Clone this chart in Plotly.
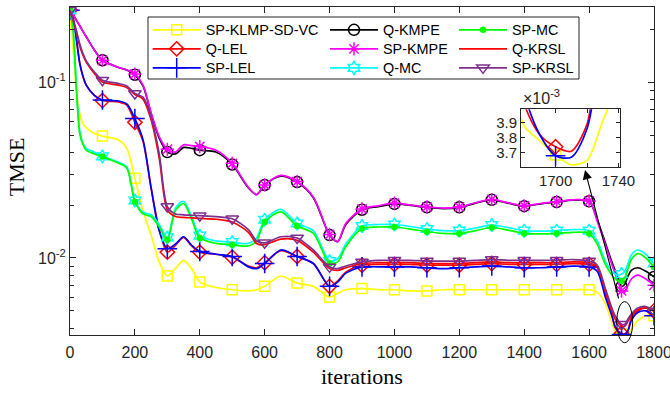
import plotly.graph_objects as go

# ---------------- data ----------------
iters = [0, 10, 20, 30, 40, 50, 75, 100,
         150, 175, 200, 225, 250, 275, 300, 325, 350, 375, 400,
         450, 500, 550, 575, 600, 650, 700, 750, 800, 825, 850,
         900, 950, 1000, 1050, 1100, 1150, 1200, 1250, 1300, 1350,
         1400, 1450, 1500, 1550, 1600, 1625, 1650, 1670, 1680, 1690,
         1700, 1710, 1720, 1730, 1750, 1775, 1800]

sp_klmp_sd_vc = [0.235, 0.155, 0.088, 0.066, 0.058, 0.055, 0.051, 0.0493,
                 0.0468, 0.042, 0.0284, 0.0185, 0.0135, 0.0095, 0.0079, 0.0087, 0.0097, 0.0087, 0.0073,
                 0.0068, 0.0066, 0.0065, 0.0066, 0.0069, 0.0079, 0.0072, 0.0069, 0.0060, 0.0063, 0.0066,
                 0.0067, 0.0066, 0.0066, 0.0065, 0.0065, 0.0066, 0.0066, 0.0066, 0.0066, 0.0066,
                 0.0066, 0.0066, 0.0066, 0.0066, 0.0066, 0.0064, 0.0055, 0.0043, 0.00388, 0.00378,
                 0.003685, 0.00362, 0.00365, 0.00391, 0.0044, 0.0047, 0.0047]

q_lel = [0.256, 0.225, 0.172, 0.128, 0.107, 0.096, 0.084, 0.0785,
         0.077, 0.074, 0.059, 0.046, 0.025, 0.0145, 0.0108, 0.0118, 0.0131, 0.0117, 0.0108,
         0.0105, 0.0101, 0.0090, 0.0088, 0.0094, 0.0110, 0.0102, 0.0093, 0.0069, 0.0074, 0.0083,
         0.0091, 0.0092, 0.0092, 0.0092, 0.0091, 0.0091, 0.0091, 0.0092, 0.0093, 0.0092,
         0.0092, 0.0092, 0.0092, 0.0093, 0.0092, 0.0088, 0.0063, 0.0048, 0.00403, 0.00382,
         0.00374, 0.00371, 0.00389, 0.00455, 0.0050, 0.0052, 0.0050]

sp_lel = [0.256, 0.228, 0.175, 0.128, 0.108, 0.096, 0.084, 0.079,
          0.078, 0.075, 0.062, 0.047, 0.025, 0.0143, 0.0113, 0.0120, 0.0132, 0.0118, 0.0109,
          0.0105, 0.0102, 0.0089, 0.0087, 0.0093, 0.0111, 0.0102, 0.0093, 0.0069, 0.0073, 0.0082,
          0.0089, 0.0089, 0.0089, 0.0089, 0.0088, 0.0087, 0.0088, 0.0089, 0.0090, 0.0089,
          0.0088, 0.0088, 0.0089, 0.0090, 0.0089, 0.0084, 0.0060, 0.0047, 0.00410, 0.00382,
          0.00368, 0.00367, 0.00386, 0.00440, 0.0049, 0.0050, 0.0047]

q_kmpe = [0.256, 0.240, 0.224, 0.209, 0.194, 0.181, 0.152, 0.133,
          0.121, 0.117, 0.110, 0.095, 0.066, 0.048, 0.040, 0.039, 0.0425, 0.042, 0.041,
          0.040, 0.034, 0.025, 0.0229, 0.026, 0.0292, 0.0270, 0.022, 0.0135, 0.0124, 0.0155,
          0.0188, 0.0196, 0.0203, 0.0199, 0.0194, 0.0191, 0.0194, 0.0205, 0.0214, 0.0205,
          0.0197, 0.0203, 0.0208, 0.0213, 0.0210, 0.0165, 0.0122, 0.0095, 0.0085, 0.0076,
          0.0069, 0.0071, 0.0079, 0.0085, 0.0088, 0.0084, 0.0078]

sp_kmpe = [0.256, 0.240, 0.224, 0.209, 0.194, 0.181, 0.152, 0.133,
           0.121, 0.117, 0.111, 0.096, 0.067, 0.049, 0.0415, 0.040, 0.044, 0.0435, 0.043,
           0.041, 0.0345, 0.0252, 0.0229, 0.026, 0.0295, 0.0272, 0.0222, 0.0136, 0.0124, 0.0157,
           0.0190, 0.0198, 0.0205, 0.0200, 0.0195, 0.0192, 0.0195, 0.0206, 0.0215, 0.0206,
           0.0198, 0.0204, 0.0209, 0.0214, 0.0211, 0.0162, 0.0119, 0.0092, 0.0082, 0.0073,
           0.0065, 0.0064, 0.0070, 0.0076, 0.0080, 0.0076, 0.0070]

q_mc = [0.256, 0.20, 0.092, 0.053, 0.045, 0.042, 0.040, 0.0378,
        0.0350, 0.0330, 0.0212, 0.0182, 0.0176, 0.0155, 0.0131, 0.0192, 0.0210, 0.0172, 0.0134,
        0.0125, 0.0123, 0.0121, 0.0130, 0.0165, 0.0189, 0.0157, 0.0143, 0.0096, 0.0099, 0.0120,
        0.0152, 0.0155, 0.0155, 0.0151, 0.0146, 0.0143, 0.0143, 0.0148, 0.0154, 0.0149,
        0.0143, 0.0142, 0.0143, 0.0145, 0.0143, 0.0125, 0.0096, 0.0084, 0.0081, 0.0080,
        0.0081, 0.0084, 0.0093, 0.0104, 0.0111, 0.0105, 0.0093]

sp_mc = [0.256, 0.19, 0.088, 0.051, 0.044, 0.041, 0.039, 0.0377,
         0.0345, 0.0325, 0.0209, 0.0178, 0.0172, 0.0150, 0.0127, 0.0186, 0.0204, 0.0166, 0.0130,
         0.0121, 0.0119, 0.0117, 0.0125, 0.0160, 0.0183, 0.0152, 0.0138, 0.0093, 0.0095, 0.0116,
         0.0147, 0.0150, 0.0150, 0.0146, 0.0141, 0.0138, 0.0138, 0.0143, 0.0149, 0.0144,
         0.0138, 0.0137, 0.0138, 0.0140, 0.0138, 0.0120, 0.0092, 0.0080, 0.0076, 0.0074,
         0.0074, 0.0077, 0.0087, 0.0098, 0.0106, 0.0100, 0.0089]

q_krsl = [0.256, 0.222, 0.19, 0.160, 0.142, 0.130, 0.112, 0.100,
          0.096, 0.093, 0.085, 0.080, 0.061, 0.037, 0.0188, 0.0172, 0.0170, 0.0169, 0.0168,
          0.0166, 0.0160, 0.0140, 0.0121, 0.0119, 0.0128, 0.0126, 0.0108, 0.0087, 0.0085, 0.0088,
          0.0093, 0.0094, 0.0094, 0.0094, 0.0093, 0.0093, 0.0093, 0.0094, 0.0095, 0.0094,
          0.0094, 0.0094, 0.0094, 0.0095, 0.0094, 0.0089, 0.0065, 0.0050, 0.0045, 0.0043,
          0.0041, 0.0041, 0.0044, 0.0047, 0.0051, 0.0052, 0.0050]

sp_krsl = [0.256, 0.226, 0.195, 0.165, 0.145, 0.132, 0.114, 0.1025,
           0.098, 0.095, 0.086, 0.082, 0.063, 0.039, 0.0196, 0.0178, 0.0176, 0.0175, 0.0174,
           0.0172, 0.0167, 0.0145, 0.0125, 0.0122, 0.0132, 0.0130, 0.0111, 0.0089, 0.0087, 0.0090,
           0.0095, 0.0097, 0.0097, 0.0097, 0.0096, 0.0096, 0.0096, 0.0097, 0.0098, 0.0097,
           0.0097, 0.0097, 0.0097, 0.0098, 0.0096, 0.0091, 0.0067, 0.0052, 0.0047, 0.0044,
           0.0042, 0.0042, 0.0045, 0.0048, 0.0052, 0.0053, 0.0050]

series_names = ["SP-KLMP-SD-VC", "Q-LEL", "SP-LEL", "Q-KMPE", "SP-KMPE",
                "Q-MC", "SP-MC", "Q-KRSL", "SP-KRSL"]
series_values = [sp_klmp_sd_vc, q_lel, sp_lel, q_kmpe, sp_kmpe, q_mc, sp_mc, q_krsl, sp_krsl]

x_ticks = [0, 200, 400, 600, 800, 1000, 1200, 1400, 1600, 1800]
y_ticks = [0.01, 0.1]
y_tick_text = ["10<sup>-2</sup>", "10<sup>-1</sup>"]
y_minor = [0.004, 0.005, 0.006, 0.007, 0.008, 0.009,
           0.02, 0.03, 0.04, 0.05, 0.06, 0.07, 0.08, 0.09, 0.2]
inset_x_ticks = [1700, 1720, 1740]
inset_x_text = ["1700", "", "1740"]
inset_y_ticks = [0.0037, 0.0038, 0.0039]
inset_y_text = ["3.7", "3.8", "3.9"]
marker_step = 100

# ---------------- styles ----------------
styles = {
    "SP-KLMP-SD-VC": dict(color="#FFFF00", symbol="square-open", size=10),
    "Q-LEL": dict(color="#FF0000", symbol="diamond-open", size=11),
    "SP-LEL": dict(color="#0000FF", symbol="cross-thin-open", size=14),
    "Q-KMPE": dict(color="#000000", symbol="circle-open", size=11),
    "SP-KMPE": dict(color="#FF00FF", symbol="asterisk-open", size=11),
    "Q-MC": dict(color="#00FFFF", symbol="hexagram-open", size=10),
    "SP-MC": dict(color="#00FF00", symbol="circle", size=5),
    "Q-KRSL": dict(color="#FF0000", symbol=None, size=0),
    "SP-KRSL": dict(color="#7E2F8E", symbol="triangle-down-open", size=11),
}

# plot area in pixels
W, H = 670, 394
ML, MR, MT, MB = 70, 16, 7, 59
PW, PH = W - ML - MR, H - MT - MB


def px_x(px):
    return (px - ML) / PW


def px_y(py):
    return (H - MB - py) / PH


fig = go.Figure()
axis_col = "#262626"
font_sans = "Liberation Sans, Arial, Helvetica, sans-serif"
font_serif = "Liberation Serif, Times New Roman, serif"

legend_cols = [152.7, 330.0, 459.0]
legend_rows = [30.0, 49.0, 68.0]

for i, (name, vals) in enumerate(zip(series_names, series_values)):
    st = styles[name]
    lg = "legend" if i == 0 else f"legend{i + 1}"
    show_mk = [(x % marker_step == 0) for x in iters]
    if st["symbol"] is None:
        mode = "lines"
        marker = None
    else:
        mode = "lines+markers"
        cols = [st["color"] if s else "rgba(0,0,0,0)" for s in show_mk]
        marker = dict(symbol=st["symbol"], size=st["size"], color=cols,
                      line=dict(color=cols, width=1.5))
    kw = dict(x=iters, y=vals, mode=mode, name=name,
              line=dict(color=st["color"], width=1.7, shape="spline", smoothing=0.8))
    if marker:
        kw["marker"] = marker
    fig.add_trace(go.Scatter(**kw, legend=lg, showlegend=True))

# inset traces
for name, vals in zip(series_names, series_values):
    if name not in ("SP-KLMP-SD-VC", "Q-LEL", "SP-LEL"):
        continue
    st = styles[name]
    show_mk = [(x % marker_step == 0) for x in iters]
    cols = [st["color"] if s else "rgba(0,0,0,0)" for s in show_mk]
    fig.add_trace(go.Scatter(
        x=iters, y=vals, mode="lines+markers", showlegend=False,
        xaxis="x2", yaxis="y2",
        line=dict(color=st["color"], width=1.7, shape="spline", smoothing=0.8),
        marker=dict(symbol=st["symbol"], size=st["size"], color=cols,
                    line=dict(color=cols, width=1.5))))

# legends
legend_layout = {}
for i in range(len(series_names)):
    col, row = i // 3, i % 3
    key = "legend" if i == 0 else f"legend{i + 1}"
    legend_layout[key] = dict(
        x=px_x(legend_cols[col] - 5), y=px_y(legend_rows[row]),
        xanchor="left", yanchor="middle",
        bgcolor="rgba(0,0,0,0)", borderwidth=0,
        font=dict(family=font_sans, size=14.4, color="#000000"),
        itemwidth=48, itemsizing="trace", tracegroupgap=0)

tick_font = dict(family=font_sans, size=16, color=axis_col)
inset_font = dict(family=font_sans, size=15, color=axis_col)

fig.update_layout(
    width=W, height=H,
    margin=dict(l=ML, r=MR, t=MT, b=MB, pad=0, autoexpand=False),
    paper_bgcolor="white", plot_bgcolor="white",
    xaxis=dict(range=[0, 1800], tickvals=x_ticks, ticks="inside", ticklen=6,
               tickcolor=axis_col, showline=True, linecolor=axis_col, linewidth=1,
               mirror="allticks", showgrid=False, zeroline=False, tickfont=tick_font,
               automargin=False, ticklabelstandoff=3, ticklabeloverflow="allow"),
    yaxis=dict(type="log", range=[-2.4377, -0.5735], tickvals=y_ticks, ticktext=y_tick_text,
               ticks="inside", ticklen=6, tickcolor=axis_col, showline=True, linecolor=axis_col,
               linewidth=1, mirror="allticks", showgrid=False, zeroline=False, tickfont=tick_font,
               automargin=False, ticklabeloverflow="allow",
               minor=dict(tickvals=y_minor, ticks="inside", ticklen=4, tickcolor=axis_col,
                          showgrid=False)),
    xaxis2=dict(domain=[px_x(521), px_x(620)], anchor="y2", range=[1678, 1741],
                tickvals=inset_x_ticks, ticktext=inset_x_text, ticks="inside", ticklen=4,
                tickcolor=axis_col, showline=True, linecolor=axis_col, linewidth=1,
                mirror="allticks", showgrid=False, zeroline=False, tickfont=inset_font,
                automargin=False, ticklabeloverflow="allow"),
    yaxis2=dict(domain=[px_y(167), px_y(109.3)], anchor="x2", range=[0.003605, 0.00399],
                tickvals=inset_y_ticks, ticktext=inset_y_text, ticks="inside", ticklen=4,
                tickcolor=axis_col, showline=True, linecolor=axis_col, linewidth=1,
                mirror="allticks", showgrid=False, zeroline=False, tickfont=inset_font,
                automargin=False, ticklabeloverflow="allow"),
    showlegend=True,
    **legend_layout,
)

# legend box
fig.add_shape(type="rect", xref="paper", yref="paper",
              x0=px_x(148), x1=px_x(579), y0=px_y(79), y1=px_y(17),
              line=dict(color=axis_col, width=1), fillcolor="white", layer="above")
# ellipse around the minimum
fig.add_shape(type="circle", xref="paper", yref="paper",
              x0=px_x(616.7), x1=px_x(632.7), y0=px_y(342.7), y1=px_y(301.7),
              line=dict(color="black", width=1), layer="above")

annotations = [
    dict(x=px_x(585), y=px_y(170), xref="paper", yref="paper", text="", showarrow=True,
         ax=34, ay=130, arrowhead=2, arrowsize=1.7, arrowwidth=1.1, arrowcolor="black"),
    dict(x=px_x(521), y=px_y(109.3), xref="paper", yref="paper", text="×10<sup>-3</sup>",
         showarrow=False, xanchor="left", yanchor="bottom",
         font=dict(family=font_sans, size=16, color=axis_col)),
    dict(x=0.5, y=px_y(377), xref="paper", yref="paper", text="iterations",
         showarrow=False, xanchor="center", yanchor="middle",
         font=dict(family=font_serif, size=22, color="#000000")),
    dict(x=px_x(16.7), y=px_y(166.5), xref="paper", yref="paper", text="TMSE",
         showarrow=False, xanchor="center", yanchor="middle", textangle=-90,
         font=dict(family=font_serif, size=22, color="#000000")),
]
fig.update_layout(annotations=annotations)

fig.write_html("out.html", config={"displayModeBar": False},
               post_script="document.body.style.margin='0';")
